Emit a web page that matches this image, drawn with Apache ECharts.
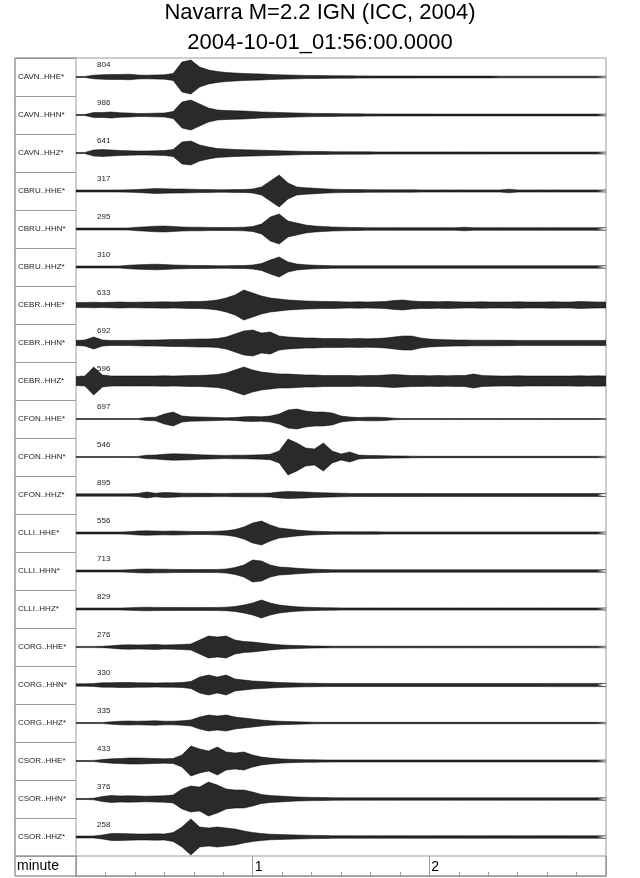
<!DOCTYPE html>
<html>
<head>
<meta charset="utf-8">
<script src="https://cdn.jsdelivr.net/npm/echarts@6/dist/echarts.min.js"></script>
<style>
html, body { margin: 0; padding: 0; background: #fff; }
#chart { width: 640px; height: 878px; }
</style>
</head>
<body>
<div id="chart"></div>
<script>
// station / channel names, top to bottom
const stations = ['CAVN..HHE*', 'CAVN..HHN*', 'CAVN..HHZ*', 'CBRU..HHE*', 'CBRU..HHN*', 'CBRU..HHZ*',
  'CEBR..HHE*', 'CEBR..HHN*', 'CEBR..HHZ*', 'CFON..HHE*', 'CFON..HHN*', 'CFON..HHZ*',
  'CLLI..HHE*', 'CLLI..HHN*', 'CLLI..HHZ*', 'CORG..HHE*', 'CORG..HHN*', 'CORG..HHZ*',
  'CSOR..HHE*', 'CSOR..HHN*', 'CSOR..HHZ*'];
// max counts printed above each trace
const peaks = ['804', '986', '641', '317', '295', '310', '633', '692', '596', '697', '546', '895',
  '556', '713', '829', '276', '330', '335', '433', '376', '258'];
// time of each envelope sample (seconds after 01:56:00)
const seconds = [0, 3, 6, 9, 12, 15, 18, 21, 24, 27, 30, 33, 36, 39, 42, 45, 48, 51, 54, 57,
  60, 63, 66, 69, 72, 75, 78, 81, 84, 87, 90, 93, 96, 99, 102, 105, 108, 111, 114, 117,
  120, 123, 126, 129, 132, 135, 138, 141, 144, 147, 150, 153, 156, 159, 162, 165, 168, 171, 174, 177, 180];

// envelope (half amplitude, in trace units)
const cavnHHE = [0.5,0.5,1.8,2.3,2.5,2.5,2.8,2.0,1.8,2.0,
  2.2,3.5,15,17,10,7,5.5,4.5,4,3.5,
  3.2,3,2.5,2.2,2,1.8,1.6,1.5,1.4,1.3,
  1.2,1.2,1.1,1.1,1.0,1.0,1.0,1.0,1.0,0.9,
  0.9,0.9,0.9,0.9,0.9,0.9,0.9,0.9,0.8,0.8,
  0.8,0.8,0.8,0.8,0.8,0.8,0.8,0.8,0.8,0.8,0.8];
const cavnHHN = [0.5,0.5,2.5,2.5,3.0,2.2,2.0,1.5,1.6,1.8,
  2.0,3.5,13,15,11,7,5,4.5,4.2,4,
  3.5,3,2.8,2.5,2.2,2,1.8,1.6,1.5,1.4,
  1.3,1.2,1.2,1.1,1.1,1.0,1.0,1.0,1.0,1.0,
  1.0,0.9,0.9,0.9,0.9,0.9,0.9,0.9,0.9,0.9,
  0.9,0.9,0.9,0.9,0.9,0.9,0.9,0.9,0.9,0.9,0.9];
const cavnHHZ = [0.5,0.6,3.0,3.5,3.0,2.5,2.2,2.0,2.0,2.2,
  2.5,3.5,11,12,8,6,4.5,4,3.5,3.2,
  3,2.8,2.5,2.2,2,1.8,1.6,1.5,1.4,1.3,
  1.2,1.2,1.2,1.2,1.1,1.1,1.1,1.1,1.1,1.1,
  1.1,1.1,1.1,1.1,1.1,1.1,1.0,1.0,1.0,1.0,
  1.0,1.0,1.0,1.0,1.0,1.0,1.0,1.0,1.0,1.0,1.0];
const cbruHHE = [1.0,1.0,1.0,1.0,1.0,1.1,1.2,1.5,2.0,2.5,
  2.2,2.0,2.0,1.8,1.6,1.4,1.3,1.3,1.4,1.5,
  2.0,4,10,16,8,4,3.2,2.8,2.2,1.8,
  1.6,1.5,1.4,1.3,1.3,1.2,1.2,1.2,1.2,1.1,
  1.1,1.1,1.1,1.1,1.1,1.1,1.1,1.1,1.1,1.8,
  1.1,1.1,1.1,1.1,1.1,1.1,1.1,1.1,1.1,1.1,1.1];
const cbruHHN = [1.0,1.0,1.0,1.0,1.0,1.0,1.1,1.8,2.2,2.8,
  3.0,2.5,2.0,1.8,1.8,1.6,1.5,1.5,1.6,1.8,
  2.5,5,12,15,8,6,4,3,2.5,2.0,
  1.8,1.6,1.4,1.3,1.3,1.3,1.3,1.3,1.3,1.3,
  1.3,1.3,1.3,1.3,1.8,1.3,1.3,1.3,1.3,1.3,
  1.3,1.3,1.3,1.3,1.3,1.3,1.3,1.3,1.3,1.3,1.3];
const cbruHHZ = [1.0,1.0,1.0,1.0,1.0,1.1,1.8,2.2,2.5,2.8,
  2.5,2.0,1.8,1.6,1.5,1.4,1.3,1.3,1.4,1.5,
  2.0,3.5,7,10,5,3,2.2,1.8,1.5,1.3,
  1.2,1.2,1.2,1.2,1.2,1.2,1.2,1.2,1.2,1.2,
  1.2,1.2,1.2,1.2,1.2,1.2,1.2,1.2,1.2,1.2,
  1.2,1.2,1.2,1.2,1.2,1.2,1.2,1.2,1.2,1.2,1.2];
const cebrHHE = [2.5,2.6,2.8,2.5,2.8,3.0,2.7,2.8,3.0,3.0,
  3.2,3.0,3.2,3.5,3.5,4.0,5,7,10,15,
  12,9,7,6,5,4.5,4,3.8,3.5,3.5,
  3.2,3.0,3.2,3.0,3.2,3.5,4.5,5,4,3.5,
  3.5,3.2,3.5,3.2,3.0,3.0,3.2,3.0,3.0,3.0,
  3.2,3.0,3.0,3.0,3.2,3.0,3.0,3.5,3.2,3.0,3.0];
const cebrHHN = [2.5,3,6,3,2.5,2.5,2.6,2.8,3,3,
  3.2,3.5,3.5,3.8,4,4,4.5,6,9,12,
  13,10,11,7,6,5.5,5,5,4.5,4.5,
  4.5,4.2,4.5,4.2,4.5,5,6,7,7,5,
  4,3.5,3.2,3.0,3.0,2.8,2.8,2.8,2.7,2.7,
  2.6,2.6,2.6,2.6,2.6,2.6,2.6,2.6,2.6,2.6,2.6];
const cebrHHZ = [4.5,5,14,6,5,5,5,5,5,5,
  5.2,5,5.2,5.5,5.5,6,6.5,8,11,14,
  11,9,8,7,7,6.5,6,6,5.5,5.5,
  5.5,5.5,5.2,5.5,5.5,6,6.5,6,5.5,5.5,
  5.2,5.5,5.2,5.5,5.5,7,5.5,5.2,5,5,
  5.2,5,5,5,5,5,5,5.2,5,5.2,5];
const cfonHHE = [0.4,0.4,0.4,0.4,0.4,0.4,0.4,0.5,1.5,1.8,
  5,7,3,2.2,2,1.8,1.5,1.2,1.5,2.2,
  2.5,2.2,3,5,9,10,8,7,7,6,
  3,2,1.5,1.8,1.8,1.5,0.8,0.5,0.5,0.5,
  0.5,0.5,0.5,0.5,0.5,0.5,0.5,0.5,0.5,0.5,
  0.5,0.5,0.5,0.5,0.5,0.5,0.5,0.5,0.5,0.5,0.5];
const cfonHHN = [0.4,0.4,0.4,0.4,0.4,0.4,0.4,0.6,1.8,2.0,
  2.8,3.2,3.0,2.8,2.2,2.0,1.8,1.6,1.8,1.8,
  2.0,2.2,2.8,6,18,14,9,8,14,6,
  3,5,2,1.5,1.4,1.2,1.1,1.0,0.8,0.7,
  0.7,0.7,0.7,0.7,0.7,0.7,0.7,0.7,0.7,0.7,
  0.7,0.7,0.7,0.7,0.7,0.7,0.7,0.7,0.7,0.7,0.7];
const cfonHHZ = [1.2,1.2,1.2,1.2,1.2,1.2,1.2,1.5,3.0,1.8,
  2.5,2.2,1.8,1.8,1.7,1.7,1.6,1.6,1.7,1.8,
  1.8,1.8,2.0,3.0,3.5,3.2,3.0,2.5,2.2,2.0,
  1.8,1.6,1.5,1.5,1.5,1.5,1.5,1.5,1.5,1.5,
  1.4,1.4,1.4,1.4,1.4,1.4,1.4,1.4,1.4,1.4,
  1.4,1.4,1.4,1.4,1.4,1.4,1.4,1.4,1.4,1.4,1.4];
const clliHHE = [1.0,1.0,1.0,1.0,1.0,1.0,1.3,2.0,2.2,2.0,
  1.8,2.0,1.8,1.6,1.5,1.6,1.8,2.2,3.5,6,
  10,12,8,5,4,3,2.2,1.8,1.5,1.3,
  1.2,1.2,1.2,1.2,1.2,1.1,1.1,1.1,1.1,1.1,
  1.1,1.1,1.1,1.1,1.1,1.1,1.1,1.1,1.1,1.1,
  1.1,1.1,1.1,1.1,1.1,1.1,1.1,1.1,1.1,1.1,1.1];
const clliHHN = [1.0,1.0,1.0,1.0,1.0,1.0,1.3,1.8,2.0,1.8,
  1.8,1.6,1.5,1.4,1.4,1.5,1.6,2.0,3.5,6,
  11,10,6,4,3.5,2.8,2.2,1.8,1.5,1.3,
  1.2,1.2,1.2,1.2,1.2,1.2,1.2,1.2,1.2,1.2,
  1.2,1.2,1.2,1.2,1.2,1.2,1.2,1.2,1.2,1.2,
  1.2,1.2,1.2,1.2,1.2,1.2,1.2,1.2,1.2,1.2,1.2];
const clliHHZ = [1.0,1.0,1.0,1.0,1.0,1.0,1.2,1.6,1.8,1.6,
  1.5,1.5,1.4,1.4,1.4,1.5,1.6,1.8,2.5,4,
  6,9,6,4,3,2.2,1.8,1.5,1.3,1.2,
  1.1,1.1,1.1,1.1,1.1,1.1,1.1,1.1,1.1,1.1,
  1.1,1.1,1.1,1.1,1.1,1.1,1.1,1.1,1.1,1.1,
  1.1,1.1,1.1,1.1,1.1,1.1,1.1,1.1,1.1,1.1,1.1];
const corgHHE = [0.6,0.6,0.6,0.7,1.2,2.0,2.2,2.0,2.2,2.5,
  2.0,2.2,2.5,3,7,11,10,11,7,5.5,
  5,4,3,2.2,1.8,1.5,1.2,1.0,0.9,0.8,
  0.8,0.8,0.8,0.8,0.8,0.8,0.8,0.8,0.8,0.8,
  0.8,0.8,0.8,0.8,0.8,0.8,0.8,0.8,0.8,0.8,
  0.8,0.8,0.8,0.8,0.8,0.8,0.8,0.8,0.8,0.8,0.8];
const corgHHN = [1.2,1.2,1.5,2.2,2.2,2.5,2.5,2.2,2.2,2.0,
  2.2,2.2,2.5,3.5,8,10,8,10,6,5,
  4,3.5,3,2.5,2.2,2.0,1.8,1.7,1.6,1.5,
  1.5,1.5,1.5,1.5,1.5,1.5,1.5,1.5,1.5,1.5,
  1.5,1.5,1.5,1.5,1.5,1.5,1.5,1.5,1.5,1.5,
  1.5,1.5,1.5,1.6,1.6,1.6,1.6,1.6,1.6,1.6,1.6];
const corgHHZ = [0.5,0.5,0.5,0.6,1.2,1.8,2.0,1.8,2.0,2.2,
  1.8,1.8,2.2,3,6,8,7,8,6,5,
  4,3,2.2,1.8,1.5,1.2,1.0,0.8,0.7,0.7,
  0.7,0.7,0.7,0.7,0.7,0.7,0.7,0.7,0.7,0.7,
  0.7,0.7,0.7,0.7,0.7,0.7,0.7,0.7,0.7,0.7,
  0.7,0.7,0.7,0.7,0.7,0.7,0.7,0.7,0.7,0.7,0.7];
const csorHHE = [0.5,0.5,0.6,1.5,2.2,2.5,3,3,2.8,2.5,
  2.2,2.5,6,15,12,10,14,9,8,9,
  6,4,3,2.2,1.8,1.5,1.3,1.2,1.1,1.0,
  1.0,1.0,1.0,1.0,1.0,1.0,1.0,1.0,1.0,1.0,
  1.0,1.0,1.0,1.0,1.0,1.0,1.0,1.0,1.0,1.0,
  1.0,1.0,1.0,1.0,1.0,1.0,1.0,1.0,1.0,1.0,1.0];
const csorHHN = [0.5,0.5,0.8,2.5,3.5,3.0,3.2,3.0,2.8,3.0,
  3.2,4,10,13,12,17,14,10,9,9,
  7,4.5,3.5,3.0,2.5,2.0,1.8,1.6,1.5,1.3,
  1.2,1.2,1.2,1.2,1.2,1.2,1.2,1.2,1.2,1.2,
  1.2,1.2,1.2,1.2,1.2,1.2,1.2,1.2,1.2,1.2,
  1.2,1.2,1.2,1.2,1.2,1.2,1.2,1.2,1.2,1.2,1.2];
const csorHHZ = [1.0,1.0,1.0,2.0,3.5,3.5,3.2,3.0,3.0,3.2,
  3.0,4.5,10,18,10,9,10,9,8,6,
  4.5,3.5,2.8,2.5,2.2,2.0,1.8,1.6,1.5,1.3,
  1.2,1.2,1.2,1.2,1.2,1.2,1.2,1.2,1.2,1.2,
  1.2,1.2,1.2,1.2,1.2,1.2,1.2,1.2,1.2,1.2,
  1.2,1.2,1.2,1.2,1.2,1.2,1.2,1.2,1.2,1.2,1.2];

const traces = [cavnHHE, cavnHHN, cavnHHZ, cbruHHE, cbruHHN, cbruHHZ,
  cebrHHE, cebrHHN, cebrHHZ, cfonHHE, cfonHHN, cfonHHZ,
  clliHHE, clliHHN, clliHHZ, corgHHE, corgHHN, corgHHZ,
  csorHHE, csorHHN, csorHHZ];

// layout
const font = "'Liberation Sans', Arial, sans-serif";
const frameColor = '#999';
const rowH = 38, top0 = 58, leftX = 15, plotL = 76, plotW = 530;

let grids = [], xAxes = [], yAxes = [], series = [], titles = [];

// two title lines
titles.push({ text: 'Navarra M=2.2 IGN (ICC, 2004)', left: 'center', top: 0, padding: 0,
  textStyle: { fontSize: 22, fontWeight: 'normal', lineHeight: 26, color: '#000', fontFamily: font } });
titles.push({ text: '2004-10-01_01:56:00.0000', left: 'center', top: 30, padding: 0,
  textStyle: { fontSize: 22, fontWeight: 'normal', lineHeight: 26, color: '#000', fontFamily: font } });

// outer frame
grids.push({ left: leftX, top: top0, width: 606 - leftX, height: 876 - top0, show: true,
  borderColor: frameColor, borderWidth: 1, backgroundColor: 'transparent' });
xAxes.push({ gridIndex: 0, type: 'value', show: false, min: 0, max: 1 });
yAxes.push({ gridIndex: 0, type: 'value', show: false, min: 0, max: 1 });

// station label column
grids.push({ left: leftX, top: top0, width: plotL - leftX, height: rowH * stations.length, show: true,
  borderColor: frameColor, borderWidth: 1 });
xAxes.push({ gridIndex: 1, type: 'value', show: false, min: 0, max: 1 });
yAxes.push({ gridIndex: 1, type: 'category', inverse: true, data: stations,
  axisLine: { show: false }, axisTick: { show: false },
  splitLine: { show: true, lineStyle: { color: frameColor, width: 1 } },
  axisLabel: { inside: true, margin: 3, fontSize: 8, color: '#222', fontFamily: font } });

// "minute" cell
const bottomTop = top0 + rowH * stations.length;
grids.push({ left: leftX, top: bottomTop, width: plotL - leftX, height: 876 - bottomTop, show: true,
  borderColor: frameColor, borderWidth: 1 });
xAxes.push({ gridIndex: 2, type: 'value', show: false, min: 0, max: 1 });
yAxes.push({ gridIndex: 2, type: 'category', data: ['minute'],
  axisLine: { show: false }, axisTick: { show: false },
  axisLabel: { inside: true, margin: 2, fontSize: 14, color: '#000', fontFamily: font } });

// time axis
grids.push({ left: plotL, top: bottomTop, width: plotW, height: 876 - bottomTop, show: true,
  borderColor: frameColor, borderWidth: 1 });
xAxes.push({ gridIndex: 3, type: 'value', min: 0, max: 180, interval: 10,
  axisLine: { show: true, lineStyle: { color: frameColor } },
  axisTick: { show: true, inside: true, length: 4, lineStyle: { color: frameColor } },
  axisLabel: { show: false }, splitLine: { show: false } });
xAxes.push({ gridIndex: 3, type: 'value', min: 0, max: 180, interval: 60, position: 'bottom',
  axisLine: { show: false }, axisTick: { show: false },
  splitLine: { show: true, lineStyle: { color: frameColor, width: 1 } },
  axisLabel: { inside: true, margin: 2, align: 'left', padding: [0, 0, 0, 2], fontSize: 14, color: '#000',
    fontFamily: font, formatter: v => (v === 60 ? '1' : v === 120 ? '2' : '') } });
yAxes.push({ gridIndex: 3, type: 'value', show: false, min: 0, max: 1 });

// one strip per trace
traces.forEach((env, i) => {
  const g = grids.length;
  const rowTop = top0 + rowH * i;
  grids.push({ left: plotL, top: rowTop, width: plotW, height: rowH });
  const xi = xAxes.length, yi = yAxes.length;
  xAxes.push({ gridIndex: g, type: 'value', show: false, min: 0, max: 180 });
  yAxes.push({ gridIndex: g, type: 'value', show: false, min: -19, max: 19 });
  const base = { type: 'line', xAxisIndex: xi, yAxisIndex: yi, symbol: 'none', silent: true,
    lineStyle: { width: 0.5, color: '#000' }, areaStyle: { color: '#2a2a2a', opacity: 1 } };
  series.push(Object.assign({}, base, { data: seconds.map((t, k) => [t, env[k]]) }));
  series.push(Object.assign({}, base, { data: seconds.map((t, k) => [t, -env[k]]) }));
  titles.push({ text: peaks[i], left: 97, top: rowTop + 2, padding: 0,
    textStyle: { fontSize: 8, fontWeight: 'normal', lineHeight: 10, color: '#222', fontFamily: font } });
});

let myChart = echarts.init(document.getElementById('chart'), null, { renderer: 'canvas' });
myChart.setOption({
  animation: false,
  backgroundColor: '#fff',
  title: titles,
  grid: grids,
  xAxis: xAxes,
  yAxis: yAxes,
  series: series
});
</script>
</body>
</html>
